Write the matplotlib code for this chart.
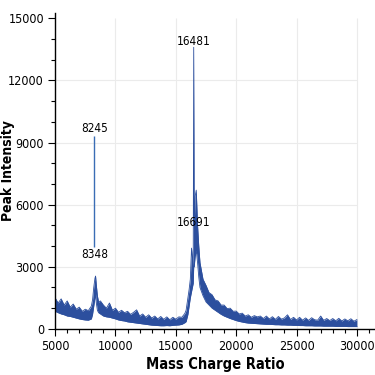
import matplotlib
matplotlib.use('Agg')
import matplotlib.pyplot as plt
from matplotlib.ticker import MultipleLocator

# spectrum: m/z and the lower / upper edge of the noisy trace
mz = [5000, 5250, 5500, 5750, 6000, 6250, 6500, 6750, 7000, 7250, 7500, 7750,
      8000, 8100, 8200, 8300, 8350, 8400, 8500, 8600, 8750,
      9000, 9250, 9500, 9750, 10000, 10250, 10500, 10750, 11000, 11250, 11500, 11750,
      12000, 12250, 12500, 12750, 13000, 13250, 13500, 13750, 14000, 14250, 14500, 14750,
      15000, 15250, 15500, 15750, 15850, 16000, 16100, 16200, 16300, 16440, 16481, 16520,
      16600, 16691, 16800, 16900, 17000, 17250, 17500, 17750, 18000, 18250, 18500, 18750,
      19000, 19250, 19500, 19750, 20000, 20250, 20500, 20750, 21000, 21250, 21500, 21750,
      22000, 22250, 22500, 22750, 23000, 23250, 23500, 23750, 24000, 24250, 24500, 24750,
      25000, 25250, 25500, 25750, 26000, 26250, 26500, 26750, 27000, 27250, 27500, 27750,
      28000, 28250, 28500, 28750, 29000, 29250, 29500, 29750, 30000]
upper = [1500, 1250, 1450, 1150, 1350, 1050, 1200, 950, 1050, 850, 950, 880,
         1100, 1400, 2000, 2450, 2550, 2200, 1600, 1300, 1350,
         1150, 1000, 1250, 900, 1000, 800, 900, 780, 850, 700, 800, 920,
         620, 720, 560, 680, 520, 620, 480, 600, 460, 580, 440, 560,
         470, 580, 560, 750, 900, 1500, 1900, 2400, 3900, 3000, 13600, 5000,
         6400, 6700, 5000, 4000, 3200, 2400, 2100, 1750, 1650, 1400, 1350, 1150,
         1150, 980, 1000, 850, 860, 720, 760, 620, 680, 560, 640, 580,
         620, 500, 620, 480, 590, 460, 600, 470, 530, 680, 450, 560,
         430, 560, 420, 530, 410, 540, 440, 420, 620, 410, 500, 400,
         500, 390, 510, 380, 480, 390, 490, 370, 450]
lower = [850, 780, 720, 680, 620, 600, 560, 520, 480, 450, 430, 420,
         480, 700, 1100, 1500, 1700, 1300, 900, 780, 720,
         620, 580, 560, 520, 480, 430, 400, 380, 340, 320, 300, 280,
         260, 240, 220, 200, 180, 170, 160, 150, 150, 160, 150, 170,
         180, 190, 220, 300, 350, 700, 1100, 1500, 1800, 2200, 3000, 3000,
         3500, 3800, 3200, 2500, 2000, 1600, 1300, 1150, 1000, 900, 800, 700,
         620, 560, 500, 450, 400, 360, 330, 300, 280, 270, 260, 250,
         240, 230, 220, 220, 210, 200, 200, 190, 190, 180, 180, 170,
         170, 160, 160, 150, 150, 150, 140, 140, 140, 130, 130, 130,
         130, 120, 120, 120, 120, 110, 110, 110, 110]

# labelled peaks
peak_labels = ['8245', '8348', '16481', '16691']
peak_x = [8245, 8245, 16481, 16481]
peak_y = [9350, 3900, 13550, 5150]
marker_x = 8245
marker_range = [3950, 9300]

xticks = [5000, 10000, 15000, 20000, 25000, 30000]
yticks = [0, 3000, 6000, 9000, 12000, 15000]

plt.rcParams['font.family'] = ['DejaVu Sans']
plt.rcParams['font.stretch'] = 'condensed'

fig = plt.figure(figsize=(3.75, 3.75), dpi=100)
ax = fig.add_axes([0.147, 0.123, 0.853, 0.842])

# light grid, stopping at the last tick
ax.hlines(yticks[1:-1], xticks[0], xticks[-1], color='#ebebeb', lw=0.8, zorder=0)
ax.vlines(xticks[1:], 0, yticks[-1], color='#ebebeb', lw=0.8, zorder=0)

blue = '#2c4f9e'
ax.fill_between(mz, lower, upper, color=blue, lw=0, zorder=2)
ax.plot(mz, upper, color=blue, lw=0.6, zorder=2)
ax.plot(mz, lower, color=blue, lw=0.6, zorder=2)
ax.vlines(marker_x, marker_range[0], marker_range[1], color='#3a6db5', lw=1, zorder=2)

for lab, x, y in zip(peak_labels, peak_x, peak_y):
    va = 'top' if lab == '8348' else ('center' if lab == '16691' else 'bottom')
    ax.text(x, y, lab, ha='center', va=va, fontsize=8.5, zorder=3)

ax.set_xlim(5000, 31500)
ax.set_ylim(0, 15250)
ax.set_xticks(xticks)
ax.set_yticks(yticks)
ax.xaxis.set_minor_locator(MultipleLocator(1000))
ax.yaxis.set_minor_locator(MultipleLocator(1000))
ax.tick_params(which='major', length=5, width=0.8, labelsize=9, pad=3)
ax.tick_params(which='minor', length=3, width=0.8)
for s in ['top', 'right']:
    ax.spines[s].set_visible(False)
for s in ['left', 'bottom']:
    ax.spines[s].set_linewidth(1)

ax.set_xlabel('Mass Charge Ratio', fontsize=10.5, fontweight='bold', labelpad=3)
ax.set_ylabel('Peak Intensity', fontsize=10, fontweight='bold')
ax.yaxis.set_label_coords(-0.125, 0.5)

fig.savefig('out.png', dpi=100)
